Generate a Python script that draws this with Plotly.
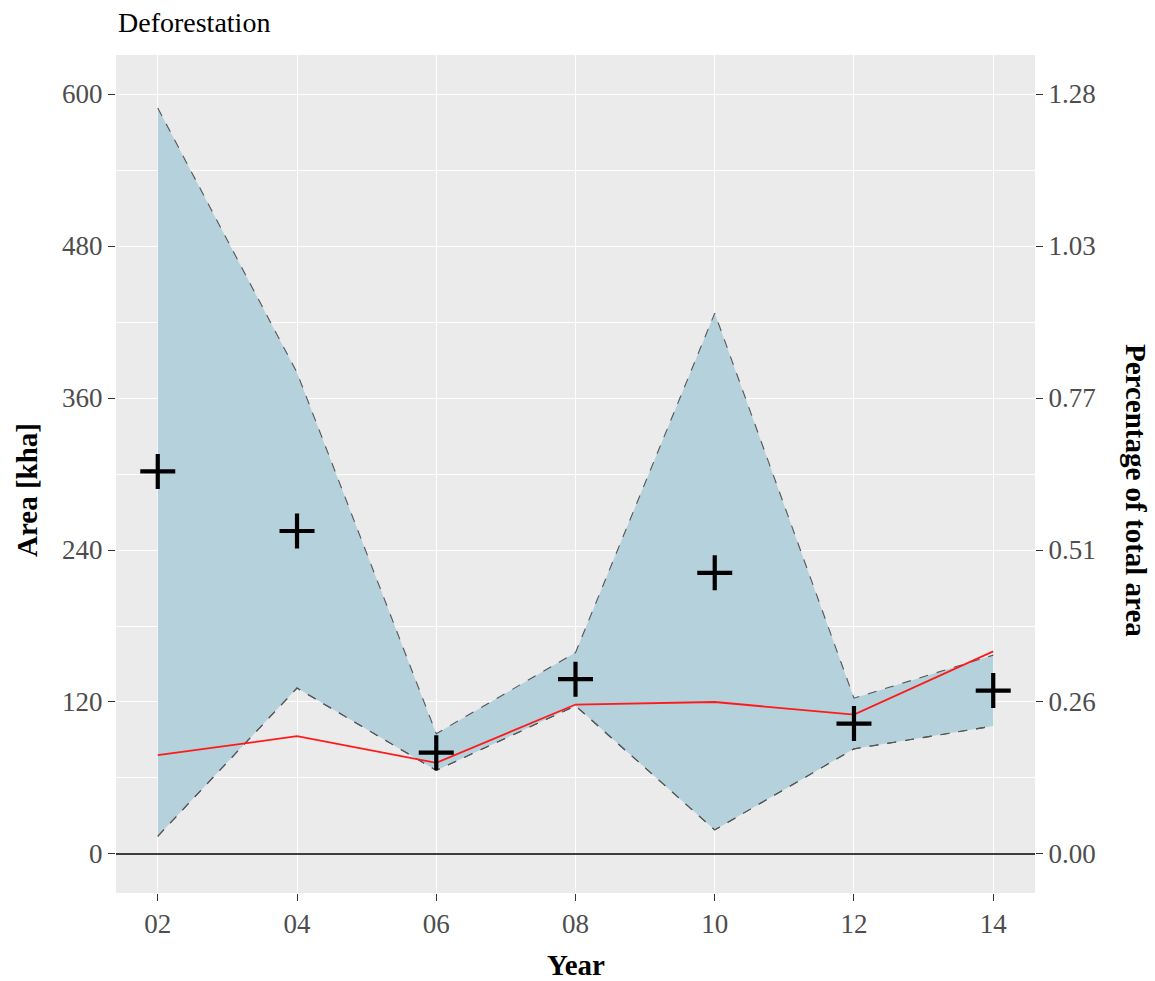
import plotly.graph_objects as go

# Survey years (two-digit labels) and deforestation estimates in kha
years = [2, 4, 6, 8, 10, 12, 14]
year_labels = ["02", "04", "06", "08", "10", "12", "14"]
upper_kha = [589, 380, 95, 159, 427, 123, 157]
lower_kha = [14, 131, 66, 117, 19, 83, 101]
reference_kha = [78, 93, 72, 118, 120, 110, 160]
estimate_kha = [302, 255, 80, 138, 222, 103, 129]

# Left-axis breaks and the total area used for the percentage axis
area_breaks = [0, 120, 240, 360, 480, 600]
total_area_kha = 46773.0

y_range = [-30.8, 630.8]
pct = 100.0 / total_area_kha

serif = "Liberation Serif"
tick_gray = "#4D4D4D"
tick_size = 27
title_size = 29

fig = go.Figure()

# Confidence band: lower bound, then upper bound filled down to it
fig.add_trace(go.Scatter(
    x=years, y=lower_kha, mode="lines",
    line=dict(color="#555555", width=1.1, dash="dash"),
    hoverinfo="skip", showlegend=False))
fig.add_trace(go.Scatter(
    x=years, y=upper_kha, mode="lines", fill="tonexty",
    fillcolor="#B4D1DC",
    line=dict(color="#555555", width=1.1, dash="dash"),
    hoverinfo="skip", showlegend=False))
# Redraw the lower dashed edge on top of the fill
fig.add_trace(go.Scatter(
    x=years, y=lower_kha, mode="lines",
    line=dict(color="#555555", width=1.1, dash="dash"),
    hoverinfo="skip", showlegend=False))

# Reference series
fig.add_trace(go.Scatter(
    x=years, y=reference_kha, mode="lines",
    line=dict(color="#FF1A1A", width=1.8),
    showlegend=False))

# Point estimates
fig.add_trace(go.Scatter(
    x=years, y=estimate_kha, mode="markers",
    marker=dict(symbol="cross-thin", size=25, color="black",
                line=dict(color="black", width=4.2)),
    showlegend=False))

# Invisible trace to anchor the percentage axis
fig.add_trace(go.Scatter(
    x=years, y=[v * pct for v in estimate_kha], yaxis="y2",
    mode="markers", marker=dict(opacity=0), hoverinfo="skip",
    showlegend=False))

# Zero reference line
fig.add_shape(type="line", xref="paper", x0=0, x1=1, yref="y", y0=0, y1=0,
              layer="above", line=dict(color="black", width=1.5))

fig.update_layout(
    width=1155, height=981,
    margin=dict(l=116, r=120, t=55, b=88),
    paper_bgcolor="white",
    plot_bgcolor="#EBEBEB",
    font=dict(family=serif, size=tick_size, color=tick_gray),
    xaxis=dict(
        range=[1.4, 14.6], tickmode="array", tickvals=years,
        ticktext=year_labels, showgrid=True, gridcolor="white",
        gridwidth=1.1, zeroline=False, ticks="outside", ticklen=7,
        tickwidth=1.1, tickcolor="#333333",
        tickfont=dict(family=serif, size=tick_size, color=tick_gray),
    ),
    yaxis=dict(
        range=y_range, tickmode="array", tickvals=area_breaks,
        ticktext=[str(v) for v in area_breaks],
        showgrid=True, gridcolor="white", gridwidth=1.1, zeroline=False,
        ticks="outside", ticklen=7, tickwidth=1.1, tickcolor="#333333",
        tickfont=dict(family=serif, size=tick_size, color=tick_gray),
        minor=dict(tickmode="array",
                   tickvals=[60, 180, 300, 420, 540],
                   showgrid=True, gridcolor="white", gridwidth=0.6,
                   ticks=""),
    ),
    yaxis2=dict(
        overlaying="y", side="right",
        range=[y_range[0] * pct, y_range[1] * pct],
        tickmode="array", tickvals=[v * pct for v in area_breaks],
        ticktext=[f"{v * pct:.2f}" for v in area_breaks],
        showgrid=False, zeroline=False, ticks="outside", ticklen=7,
        tickwidth=1.1, tickcolor="#333333",
        tickfont=dict(family=serif, size=tick_size, color=tick_gray),
    ),
    annotations=[
        dict(text="Deforestation", xref="paper", yref="paper", x=0, y=1,
             xanchor="left", yanchor="middle", yshift=33, showarrow=False,
             font=dict(family=serif, size=28, color="black")),
        dict(text="<b>Year</b>", xref="paper", yref="paper", x=0.5, y=0,
             xanchor="center", yanchor="middle", yshift=-72, showarrow=False,
             font=dict(family=serif, size=title_size, color="black")),
        dict(text="<b>Area [kha]</b>", xref="paper", yref="paper", x=0, y=0.5,
             xanchor="center", yanchor="middle", xshift=-89, yshift=-16,
             textangle=-90, showarrow=False,
             font=dict(family=serif, size=title_size, color="black")),
        dict(text="<b>Percentage of total area</b>", xref="paper",
             yref="paper", x=1, y=0.5, xanchor="center", yanchor="middle",
             xshift=101, yshift=-16, textangle=90, showarrow=False,
             font=dict(family=serif, size=title_size, color="black")),
    ],
)

fig.write_html("out.html")
